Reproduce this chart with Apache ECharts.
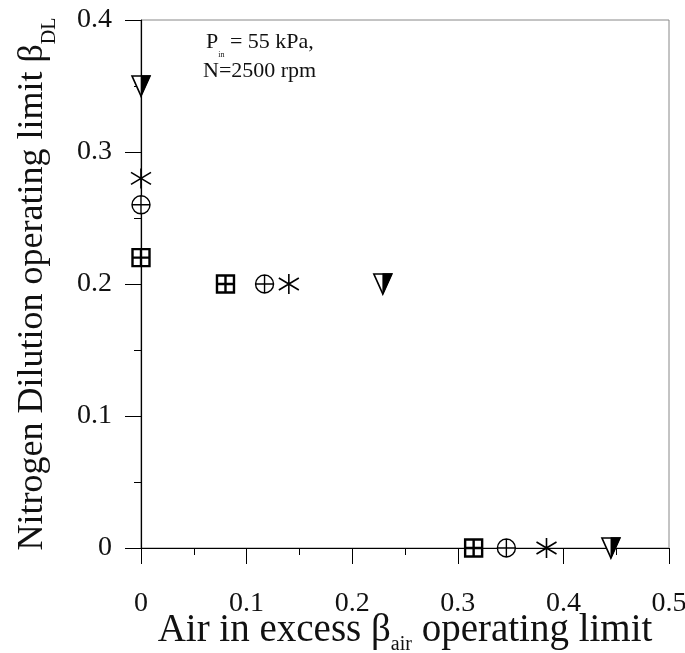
<!DOCTYPE html>
<html>
<head>
<meta charset="utf-8">
<script src="https://cdn.jsdelivr.net/npm/echarts@6/dist/echarts.min.js"></script>
<style>html,body{margin:0;padding:0;background:#fff}#c{width:685px;height:653px}</style>
</head>
<body>
<div id="c"></div>
<script>
// Data
var squareX = [0, 0.08, 0.315];
var squareY = [0.22, 0.2, 0];
var circleX = [0, 0.117, 0.346];
var circleY = [0.26, 0.2, 0];
var starX = [0, 0.14, 0.384];
var starY = [0.28, 0.2, 0];
var triX = [0, 0.229, 0.445];
var triY = [0.35, 0.2, 0];

var xTicks = [0, 0.1, 0.2, 0.3, 0.4, 0.5];
var yTicks = [0, 0.1, 0.2, 0.3, 0.4];

function pairs(xs, ys) { return xs.map(function (x, i) { return [x, ys[i]]; }); }

var FONT = '"Liberation Serif", "Times New Roman", serif';

var chart = echarts.init(document.getElementById('c'), null, { renderer: 'canvas' });

var symSquare = 'path://M0 0 L10 0 L10 10 L0 10 Z M5 0 L5 10 M0 5 L10 5';
var symCircle = 'path://M0 5 A5 5 0 1 1 10 5 A5 5 0 1 1 0 5 Z M5 0 L5 10 M0 5 L10 5';
var symStar = 'path://M5 0 L5 10 M0.7 2 L9.3 8 M0.7 8 L9.3 2';
var symTri = 'path://M0 0 L10 0 L5 10 Z';
var symTriHalf = 'path://M5 0 L10 0 L5 10 Z';

chart.setOption({
  animation: false,
  backgroundColor: '#fff',
  grid: { left: 141, top: 20, right: 16, bottom: 105, containLabel: false, outerBoundsMode: 'none',
    show: true, borderColor: '#888', borderWidth: 1 },
  xAxis: {
    type: 'value', min: xTicks[0], max: xTicks[xTicks.length - 1], interval: 0.1,
    axisLine: { show: true, onZero: false, lineStyle: { color: '#000', width: 1.2 } },
    axisTick: { show: true, inside: false, length: 16, lineStyle: { color: '#000' } },
    minorTick: { show: true, splitNumber: 2, length: 7, lineStyle: { color: '#000' } },
    splitLine: { show: false },
    axisLabel: { margin: 42, fontFamily: FONT, fontSize: 28, color: '#111',
      formatter: function (v) { return String(+v.toFixed(1)); } },
    name: 'Air in excess β{sub|air} operating limit',
    nameLocation: 'middle', nameGap: 63, nameMoveOverlap: false,
    nameTextStyle: { fontFamily: FONT, fontSize: 39, color: '#111',
      rich: { sub: { fontFamily: FONT, fontSize: 20, color: '#111', verticalAlign: 'bottom', padding: [0, 0, -5, 0] } } }
  },
  yAxis: {
    type: 'value', min: yTicks[0], max: yTicks[yTicks.length - 1], interval: 0.1,
    axisLine: { show: true, onZero: false, lineStyle: { color: '#000', width: 1.2 } },
    axisTick: { show: true, inside: false, length: 16, lineStyle: { color: '#000' } },
    minorTick: { show: true, splitNumber: 2, length: 7, lineStyle: { color: '#000' } },
    splitLine: { show: false },
    axisLabel: { margin: 29, fontFamily: FONT, fontSize: 28, color: '#111',
      formatter: function (v) { return String(+v.toFixed(1)); } },
    name: 'Nitrogen Dilution operating limit β{sub|DL}',
    nameLocation: 'middle', nameGap: 90, nameMoveOverlap: false,
    nameTextStyle: { fontFamily: FONT, fontSize: 36, color: '#111',
      rich: { sub: { fontFamily: FONT, fontSize: 20, color: '#111', verticalAlign: 'bottom', padding: [0, 0, -9, 0] } } }
  },
  graphic: [
    { type: 'text', left: 206, top: 31, style: { text: 'P{s|in} = 55 kPa,', fontFamily: FONT, fontSize: 22, fill: '#111',
      rich: { s: { fontFamily: FONT, fontSize: 8, fill: '#111', verticalAlign: 'bottom', padding: [0, 0, -6, 0] } } } },
    { type: 'text', left: 203, top: 60, style: { text: 'N=2500 rpm', fontFamily: FONT, fontSize: 22, fill: '#111' } }
  ],
  series: [
    { type: 'scatter', data: pairs(squareX, squareY), symbol: symSquare, symbolSize: 17,
      itemStyle: { color: '#fff', borderColor: '#000', borderWidth: 2.4, opacity: 1 } },
    { type: 'scatter', data: pairs(circleX, circleY), symbol: symCircle, symbolSize: 18,
      itemStyle: { color: '#fff', borderColor: '#000', borderWidth: 1.4, opacity: 1 } },
    { type: 'scatter', data: pairs(starX, starY), symbol: symStar, symbolSize: 20,
      itemStyle: { color: 'none', borderColor: '#000', borderWidth: 1.6, opacity: 1 } },
    { type: 'scatter', data: pairs(triX, triY), symbol: symTri, symbolSize: [18, 20],
      itemStyle: { color: '#fff', borderColor: '#000', borderWidth: 1.6, opacity: 1 } },
    { type: 'scatter', data: pairs(triX, triY), symbol: symTriHalf, symbolSize: [9, 20], symbolOffset: [4.5, 0],
      itemStyle: { color: '#000', borderColor: '#000', borderWidth: 1, opacity: 1 } }
  ]
});
</script>
</body>
</html>
